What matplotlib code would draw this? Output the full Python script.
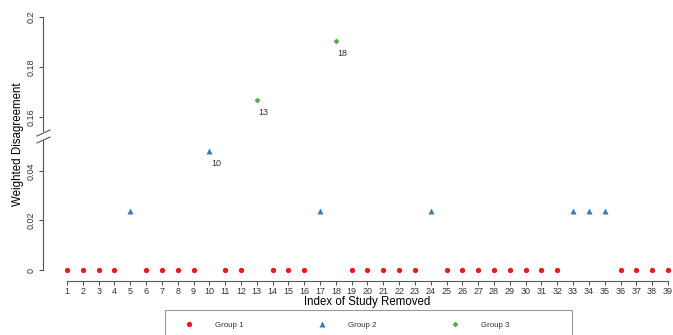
import matplotlib.pyplot as plt
from matplotlib.lines import Line2D
from matplotlib.patches import Rectangle

plt.rcParams['font.family'] = ['Liberation Sans', 'DejaVu Sans']

# data
g1_idx = [1, 2, 3, 4, 6, 7, 8, 9, 11, 12, 14, 15, 16, 19, 20, 21, 22, 23, 25,
          26, 27, 28, 29, 30, 31, 32, 36, 37, 38, 39]
g1_val = [0.0] * len(g1_idx)
g2_idx = [5, 10, 17, 24, 33, 34, 35]
g2_val = [0.024, 0.048, 0.024, 0.024, 0.024, 0.024, 0.024]
g3_idx = [13, 18]
g3_val = [0.1668, 0.1905]
labelled = [10, 13, 18]
x_ticks = list(range(1, 40))
low_ticks = [0, 0.02, 0.04]
high_ticks = [0.16, 0.18, 0.2]
low_lim = (-0.00444, 0.0537)
high_lim = (0.152, 0.202)

red, blue, green = "#E41A1C", "#377EB8", "#4DAF4A"
axis_col = "#555555"
text_col = "#333333"

W, H = 673, 335
fig = plt.figure(figsize=(W / 100, H / 100), dpi=100)
left = 43 / W
width = (692 - 43) / W
ax_lo = fig.add_axes([left, (H - 281) / H, width, 144 / H])
ax_hi = fig.add_axes([left, (H - 137) / H, width, 125 / H])

ax_lo.plot(g1_idx, g1_val, "o", color=red, ms=3.8, mec="none", clip_on=False)
ax_lo.plot(g2_idx, g2_val, "^", color=blue, ms=5, mec="none", clip_on=False)
ax_hi.plot(g3_idx, g3_val, "D", color=green, ms=3, mec="none", clip_on=False)

for ax in (ax_lo, ax_hi):
    ax.set_xlim(1 - 38 * 0.04, 39 + 38 * 0.04)
    ax.patch.set_alpha(0)
    for s in ("top", "right"):
        ax.spines[s].set_visible(False)
    ax.spines["left"].set_color(axis_col)
    ax.spines["left"].set_linewidth(0.8)
    ax.tick_params(axis="y", colors=axis_col, labelcolor=text_col, labelsize=6.5,
                   length=3, width=0.8, pad=2)

ax_lo.set_ylim(*low_lim)
ax_hi.set_ylim(*high_lim)
ax_lo.set_yticks(low_ticks)
ax_lo.set_yticklabels(["0", "0.02", "0.04"], rotation=90, va="center")
ax_hi.set_yticks(high_ticks)
ax_hi.set_yticklabels(["0.16", "0.18", "0.2"], rotation=90, va="center")
ax_lo.spines["left"].set_bounds(0, 0.0525)
ax_hi.spines["left"].set_bounds(0.1545, 0.2)

ax_hi.spines["bottom"].set_visible(False)
ax_hi.set_xticks([])
ax_lo.set_xticks(x_ticks)
ax_lo.spines["bottom"].set_bounds(1, 39)
ax_lo.spines["bottom"].set_color(axis_col)
ax_lo.spines["bottom"].set_linewidth(0.8)
ax_lo.tick_params(axis="x", colors=axis_col, labelcolor=text_col, labelsize=6.5,
                  length=3, width=0.8, pad=1.5)

# labels next to outlying points
for i, v in zip(g2_idx + g3_idx, g2_val + g3_val):
    if i in labelled:
        ax = ax_hi if v > 0.1 else ax_lo
        ax.annotate(str(i), (i, v), xytext=(5, -9), textcoords="offset points",
                    fontsize=6.5, color=text_col, va="center", ha="center")

# break marks on the y axis
for yy in (133, 140):
    fig.add_artist(Line2D([37 / W, 50 / W], [(H - yy - 3) / H, (H - yy + 3) / H],
                          color=axis_col, lw=0.8))

fig.text(18 / W, (H - 144) / H, "Weighted Disagreement", rotation=90,
         ha="center", va="center", fontsize=8.3)
fig.text(367 / W, (H - 302) / H, "Index of Study Removed",
         ha="center", va="center", fontsize=8.3)

# legend box below the plot
fig.add_artist(Rectangle((165 / W, (H - 345) / H), 407 / W, 35 / H,
                         fill=False, ec="#999999", lw=0.8))
handles = [Line2D([], [], ls="none", marker="o", color=red, ms=3.8, mec="none"),
           Line2D([], [], ls="none", marker="^", color=blue, ms=5, mec="none"),
           Line2D([], [], ls="none", marker="D", color=green, ms=3, mec="none")]
leg = fig.legend(handles, ["Group 1", "Group 2", "Group 3"], ncol=3,
                 loc="center left", bbox_to_anchor=(181 / W, (H - 325) / H),
                 frameon=False, borderpad=0, borderaxespad=0,
                 handletextpad=2.35, columnspacing=8.85, handlelength=2.0,
                 prop={"size": 5.7})
for t in leg.get_texts():
    t.set_color(text_col)

fig.savefig("out.png", dpi=100)
